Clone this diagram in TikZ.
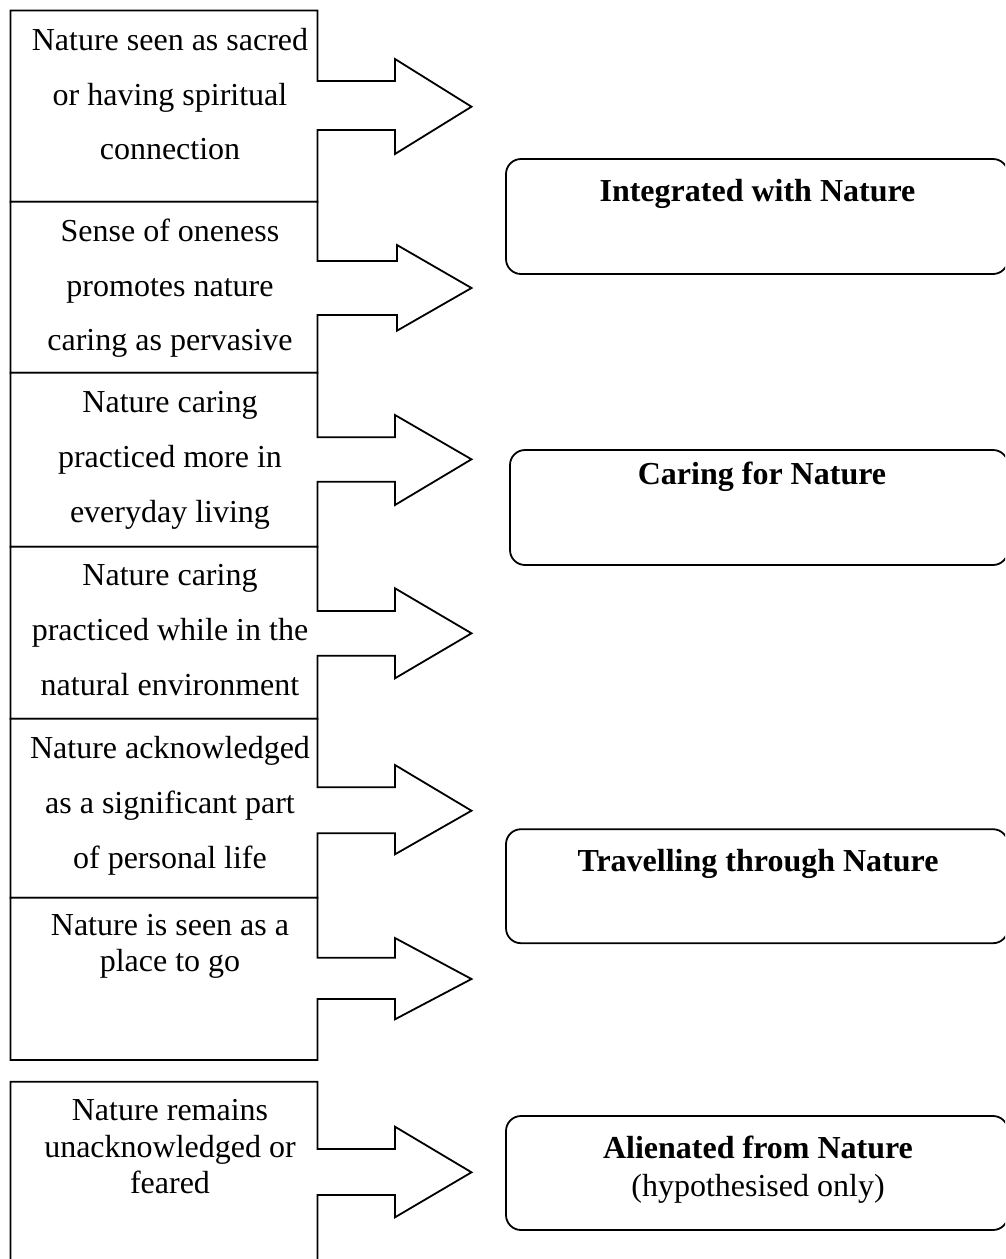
\documentclass[tikz,border=0pt]{standalone}
\usepackage{fontspec}
\setmainfont{Liberation Serif}
\newcommand{\cstrut}{\rule{0pt}{30pt}}
\begin{document}
\begin{tikzpicture}[x=1pt,y=-1pt,
  callout/.style={draw=black, line width=1.8pt, fill=white, line join=miter},
  ctext/.style={align=center, inner sep=0pt, anchor=north, font=\fontsize{32}{54.8}\selectfont},
  ctextsingle/.style={align=center, inner sep=0pt, anchor=north, font=\fontsize{32}{36.3}\selectfont},
  stage/.style={draw=black, line width=1.8pt, rounded corners=15pt, minimum height=115pt, inner sep=0pt},
  stagetext/.style={anchor=base, inner sep=0pt, font=\fontsize{32}{37.7}\selectfont\bfseries},
  stagetwo/.style={align=center, anchor=north, inner sep=0pt, font=\fontsize{32}{37.7}\selectfont}]
\useasboundingbox (0,0) rectangle (1005,1259);
\clip (0,0) rectangle (1005,1259);

% callouts on the left
\draw[callout] (10.5,10.5) -- (317.5,10.5) -- (317.5,81) -- (395,81) -- (395,59) -- (471.5,106.7) -- (395,154) -- (395,130) -- (317.5,130) -- (317.5,201.7) -- (10.5,201.7) -- cycle;
\draw[callout] (10.5,201.7) -- (317.5,201.7) -- (317.5,261) -- (397,261) -- (397,245) -- (471.5,288) -- (397,330.7) -- (397,315) -- (317.5,315) -- (317.5,372.7) -- (10.5,372.7) -- cycle;
\draw[callout] (10.5,372.7) -- (317.5,372.7) -- (317.5,437.3) -- (395,437.3) -- (395,415) -- (471.5,459.3) -- (395,505) -- (395,481.7) -- (317.5,481.7) -- (317.5,546.7) -- (10.5,546.7) -- cycle;
\draw[callout] (10.5,546.7) -- (317.5,546.7) -- (317.5,611) -- (395,611) -- (395,588.3) -- (471.5,633.3) -- (395,678.3) -- (395,655.7) -- (317.5,655.7) -- (317.5,718.7) -- (10.5,718.7) -- cycle;
\draw[callout] (10.5,718.7) -- (317.5,718.7) -- (317.5,787.3) -- (395,787.3) -- (395,765) -- (471.5,810.7) -- (395,854.3) -- (395,833.3) -- (317.5,833.3) -- (317.5,897.7) -- (10.5,897.7) -- cycle;
\draw[callout] (10.5,897.7) -- (317.5,897.7) -- (317.5,957.7) -- (395,957.7) -- (395,938) -- (471.5,979) -- (395,1019.3) -- (395,999) -- (317.5,999) -- (317.5,1060) -- (10.5,1060) -- cycle;
\draw[callout] (10.5,1081.7) -- (317.5,1081.7) -- (317.5,1149) -- (395,1149) -- (395,1126.7) -- (471.5,1172.3) -- (395,1217.3) -- (395,1195) -- (317.5,1195) -- (317.5,1290) -- (10.5,1290) -- cycle;

\node[ctext] (c1) at (170,20) {\cstrut Nature seen as sacred\\or having spiritual\\connection};
\node[ctext] (c2) at (170,211) {\cstrut Sense of oneness\\promotes nature\\caring as pervasive};
\node[ctext] (c3) at (170,382.3) {\cstrut Nature caring\\practiced more in\\everyday living};
\node[ctext] (c4) at (170,555.7) {\cstrut Nature caring\\practiced while in the\\natural environment};
\node[ctext] (c5) at (170,728.3) {\cstrut Nature acknowledged\\as a significant part\\of personal life};
\node[ctextsingle] (c6) at (170,905) {\cstrut Nature is seen as a\\place to go};
\node[ctextsingle] (c7) at (170,1090.7) {\cstrut Nature remains\\unacknowledged or\\feared};

% stages on the right
\node[stage, minimum width=502pt] (r1) at (757,216.5) {};
\node[stage, minimum width=498pt] (r2) at (759,507.5) {};
\node[stage, minimum width=502pt, minimum height=114pt] (r3) at (757,886.2) {};
\node[stage, minimum width=502pt, minimum height=114pt] (r4) at (757,1173) {};

\node[stagetext] (t1) at (757.5,201.7) {Integrated with Nature};
\node[stagetext] (t2) at (762,484) {Caring for Nature};
\node[stagetext] (t3) at (758,871.7) {Travelling through Nature};
\node[stagetwo] (t4) at (758,1128.3) {\cstrut\textbf{Alienated from Nature}\\(hypothesised only)};
\end{tikzpicture}
\end{document}
